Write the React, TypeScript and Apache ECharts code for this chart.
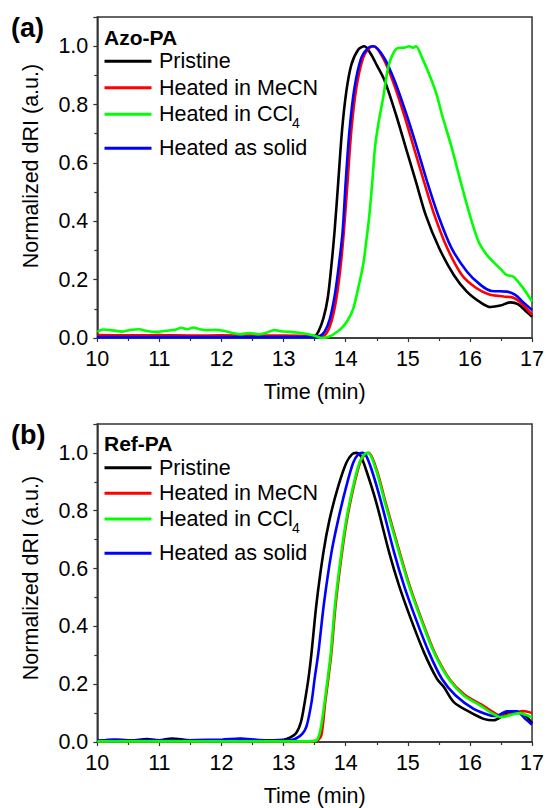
import React, { useEffect, useRef } from "react";
import * as echarts from "echarts";

// ---------- data ----------
const timeTicks = [10, 11, 12, 13, 14, 15, 16, 17];
const seriesNames = ["Pristine", "Heated in MeCN", "Heated in CCl4", "Heated as solid"];
const seriesColors = ["#000000", "#ff0000", "#00ff00", "#0000ff"];
const yAxisTitle = "Normalized dRI (a.u.)";
const xAxisTitle = "Time (min)";

// Panel (a) Azo-PA
const azoPristine: [number, number][] = [
  [10, 0.008], [10.5, 0.008], [11, 0.01], [11.5, 0.006], [12, 0.006], [12.5, 0.005], [13, 0.005],
  [13.45, 0.005], [13.5, 0.006], [13.56, 0.022], [13.64, 0.067], [13.71, 0.136], [13.77, 0.25],
  [13.82, 0.365], [13.88, 0.536], [13.94, 0.71], [14.01, 0.845], [14.09, 0.936], [14.2, 0.988],
  [14.3, 1.0], [14.4, 0.975], [14.5, 0.935], [14.63, 0.88], [14.81, 0.765], [14.97, 0.65],
  [15.13, 0.536], [15.29, 0.42], [15.5, 0.31], [15.74, 0.216], [15.95, 0.159], [16.17, 0.122],
  [16.33, 0.106], [16.49, 0.111], [16.65, 0.122], [16.78, 0.115], [16.91, 0.09], [17, 0.073],
];
const azoMeCN: [number, number][] = [
  [10, 0.01], [10.5, 0.009], [11, 0.009], [11.5, 0.008], [12, 0.009], [12.5, 0.008], [13, 0.008],
  [13.5, 0.007], [13.61, 0.006], [13.69, 0.016], [13.77, 0.056], [13.85, 0.136], [13.92, 0.25],
  [13.97, 0.365], [14.03, 0.536], [14.09, 0.71], [14.17, 0.856], [14.28, 0.96], [14.38, 0.994],
  [14.45, 1.0], [14.6, 0.96], [14.76, 0.88], [14.94, 0.765], [15.1, 0.65], [15.26, 0.536],
  [15.43, 0.42], [15.63, 0.31], [15.87, 0.216], [16.09, 0.173], [16.3, 0.15], [16.54, 0.142],
  [16.7, 0.138], [16.83, 0.119], [17, 0.079],
];
const azoCCl4: [number, number][] = [
  [10, 0.021], [10.1, 0.029], [10.25, 0.026], [10.4, 0.022], [10.55, 0.028], [10.67, 0.03],
  [10.8, 0.024], [10.95, 0.021], [11.1, 0.025], [11.25, 0.028], [11.35, 0.035], [11.45, 0.03],
  [11.55, 0.036], [11.65, 0.03], [11.78, 0.027], [11.9, 0.028], [12.05, 0.024], [12.2, 0.016],
  [12.3, 0.013], [12.45, 0.017], [12.6, 0.013], [12.72, 0.018], [12.85, 0.027], [13, 0.022],
  [13.1, 0.021], [13.25, 0.018], [13.4, 0.013], [13.52, 0.006], [13.62, 0.0], [13.72, 0.004],
  [13.8, 0.012], [13.93, 0.033], [14.03, 0.06], [14.12, 0.1], [14.2, 0.17], [14.28, 0.25],
  [14.33, 0.33], [14.38, 0.42], [14.43, 0.54], [14.47, 0.65], [14.53, 0.74], [14.6, 0.82],
  [14.7, 0.94], [14.84, 0.994], [14.95, 0.995], [15.02, 1.0], [15.08, 0.995], [15.13, 1.0],
  [15.23, 0.96], [15.37, 0.89], [15.47, 0.83], [15.55, 0.765], [15.71, 0.65], [15.85, 0.536],
  [16.0, 0.42], [16.14, 0.33], [16.27, 0.285], [16.38, 0.26], [16.5, 0.235], [16.59, 0.216],
  [16.7, 0.21], [16.86, 0.17], [17, 0.125],
];
const azoSolid: [number, number][] = [
  [10, 0.003], [11, 0.003], [12, 0.003], [13, 0.003], [13.5, 0.003], [13.58, 0.006],
  [13.66, 0.022], [13.74, 0.062], [13.82, 0.142], [13.89, 0.25], [13.95, 0.365], [14.0, 0.536],
  [14.06, 0.71], [14.14, 0.856], [14.25, 0.96], [14.36, 0.994], [14.45, 1.0], [14.62, 0.96],
  [14.79, 0.88], [14.98, 0.765], [15.15, 0.65], [15.31, 0.536], [15.49, 0.42], [15.7, 0.31],
  [15.95, 0.228], [16.17, 0.182], [16.35, 0.161], [16.59, 0.159], [16.73, 0.148], [16.86, 0.122],
  [17, 0.096],
];

// Panel (b) Ref-PA
const refPristine: [number, number][] = [
  [10, 0.004], [10.3, 0.008], [10.55, 0.005], [10.8, 0.01], [11.0, 0.006], [11.2, 0.012],
  [11.5, 0.006], [12, 0.006], [12.3, 0.01], [12.6, 0.006], [13.0, 0.008], [13.1, 0.015],
  [13.2, 0.03], [13.28, 0.07], [13.34, 0.138], [13.4, 0.22], [13.45, 0.31], [13.53, 0.48],
  [13.64, 0.655], [13.74, 0.77], [13.88, 0.885], [14.01, 0.966], [14.1, 0.995], [14.17, 1.0],
  [14.24, 0.99], [14.33, 0.94], [14.49, 0.83], [14.7, 0.655], [14.86, 0.54], [15.05, 0.425],
  [15.26, 0.31], [15.47, 0.218], [15.58, 0.19], [15.74, 0.138], [16.0, 0.103], [16.22, 0.08],
  [16.38, 0.075], [16.54, 0.092], [16.65, 0.105], [16.8, 0.103], [16.9, 0.09], [17, 0.065],
];
const refMeCN: [number, number][] = [
  [10, 0.002], [11, 0.002], [12, 0.002], [13, 0.002], [13.5, 0.003], [13.56, 0.008],
  [13.61, 0.025], [13.67, 0.138], [13.72, 0.22], [13.77, 0.31], [13.84, 0.48], [13.94, 0.655],
  [14.02, 0.77], [14.13, 0.885], [14.23, 0.966], [14.31, 0.995], [14.37, 1.0], [14.5, 0.94],
  [14.64, 0.83], [14.87, 0.655], [15.03, 0.54], [15.22, 0.425], [15.43, 0.31], [15.67, 0.218],
  [15.91, 0.164], [16.18, 0.13], [16.36, 0.105], [16.5, 0.09], [16.65, 0.097], [16.85, 0.107],
  [17, 0.1],
];
const refCCl4: [number, number][] = [
  [10, 0.002], [11, 0.002], [12, 0.002], [13, 0.002], [13.48, 0.003], [13.55, 0.012],
  [13.6, 0.05], [13.66, 0.138], [13.71, 0.22], [13.76, 0.31], [13.83, 0.48], [13.93, 0.655],
  [14.01, 0.77], [14.12, 0.885], [14.22, 0.966], [14.3, 0.995], [14.36, 1.0], [14.49, 0.94],
  [14.63, 0.83], [14.86, 0.655], [15.02, 0.54], [15.21, 0.425], [15.42, 0.31], [15.66, 0.218],
  [15.9, 0.161], [16.17, 0.126], [16.35, 0.1], [16.5, 0.086], [16.65, 0.093], [16.8, 0.1],
  [16.9, 0.094], [17, 0.085],
];
const refSolid: [number, number][] = [
  [10, 0.004], [10.25, 0.008], [10.5, 0.005], [10.9, 0.007], [11.3, 0.005], [11.6, 0.007],
  [12.0, 0.008], [12.3, 0.012], [12.6, 0.007], [13.0, 0.005], [13.1, 0.006], [13.2, 0.012],
  [13.3, 0.028], [13.37, 0.055], [13.45, 0.138], [13.5, 0.22], [13.56, 0.31], [13.65, 0.48],
  [13.77, 0.655], [13.88, 0.77], [14.01, 0.885], [14.12, 0.966], [14.2, 0.995], [14.27, 1.0],
  [14.33, 0.99], [14.42, 0.94], [14.57, 0.83], [14.78, 0.655], [14.94, 0.54], [15.13, 0.425],
  [15.34, 0.31], [15.55, 0.218], [15.77, 0.161], [16.06, 0.115], [16.33, 0.092], [16.43, 0.09],
  [16.59, 0.106], [16.75, 0.106], [16.89, 0.08], [17, 0.06],
];

const panelA = [azoPristine, azoMeCN, azoCCl4, azoSolid];
const panelB = [refPristine, refMeCN, refCCl4, refSolid];
const drawOrder = [0, 1, 3, 2];

const FONT = "'Liberation Sans', Arial, Helvetica, sans-serif";
const AXIS_COLOR = "#333";

export default function App() {
  const ref = useRef<HTMLDivElement>(null);
  useEffect(() => {
    if (!ref.current) return;
    const chart = echarts.init(ref.current, undefined, { renderer: "svg" });

    const grids = [
      { left: 97.3, top: 17, width: 438, height: 321 },
      { left: 97.3, top: 424, width: 438, height: 319.3 },
    ];

    const makeX = (gi: number) => ({
      type: "value",
      gridIndex: gi,
      min: timeTicks[0],
      max: timeTicks[timeTicks.length - 1],
      interval: 1,
      axisLine: { show: true, lineStyle: { color: AXIS_COLOR, width: 1.5 } },
      axisTick: { show: true, inside: false, length: 4, lineStyle: { color: AXIS_COLOR, width: 1.2 } },
      minorTick: { show: true, splitNumber: 2, length: 3, lineStyle: { color: AXIS_COLOR, width: 1.2 } },
      splitLine: { show: false },
      axisLabel: { fontSize: 21.5, color: "#000", fontFamily: FONT, margin: 10 },
      name: xAxisTitle,
      nameLocation: "middle",
      nameGap: 43,
      nameTextStyle: { fontSize: 21.5, color: "#000", fontFamily: FONT },
    });
    const makeY = (gi: number) => ({
      type: "value",
      gridIndex: gi,
      min: 0,
      max: 1.1,
      interval: 0.2,
      axisLine: { show: true, lineStyle: { color: AXIS_COLOR, width: 1.5 } },
      axisTick: { show: true, inside: false, length: 4, lineStyle: { color: AXIS_COLOR, width: 1.2 } },
      minorTick: { show: true, splitNumber: 2, length: 3, lineStyle: { color: AXIS_COLOR, width: 1.2 } },
      splitLine: { show: false },
      axisLabel: {
        fontSize: 21.5,
        color: "#000",
        fontFamily: FONT,
        margin: 9,
        showMaxLabel: false,
        formatter: (v: number) => (v > 1.05 ? "" : v.toFixed(1)),
      },
    });

    const series: any[] = [];
    [panelA, panelB].forEach((panel, gi) => {
      drawOrder.forEach((si, k) => {
        series.push({
          type: "line",
          name: seriesNames[si],
          xAxisIndex: gi,
          yAxisIndex: gi,
          data: panel[si],
          symbol: "none",
          showSymbol: false,
          smooth: 0.3,
          lineStyle: { color: seriesColors[si], width: 2.6 },
          itemStyle: { color: seriesColors[si] },
          z: 2 + k,
          silent: true,
        });
      });
    });

    const legendBlock = (
      title: string,
      titleY: number,
      rowYs: number[],
      panelLabel: string,
      labelY: number,
      yTitleCenter: number
    ) => {
      const els: any[] = [
        {
          type: "text",
          x: 11,
          y: labelY,
          style: { text: panelLabel, fontSize: 27, fontWeight: "bold", fontFamily: FONT, fill: "#000", verticalAlign: "middle" },
        },
        {
          type: "text",
          x: 31,
          y: yTitleCenter,
          rotation: Math.PI / 2,
          style: { text: yAxisTitle, fontSize: 21.5, fontFamily: FONT, fill: "#000", align: "center", verticalAlign: "middle" },
        },
        {
          type: "text",
          x: 104,
          y: titleY,
          style: { text: title, fontSize: 21, fontWeight: "bold", fontFamily: FONT, fill: "#000", verticalAlign: "middle" },
        },
      ];
      rowYs.forEach((yy, i) => {
        els.push({
          type: "line",
          shape: { x1: 104.5, y1: yy, x2: 151.5, y2: yy },
          style: { stroke: seriesColors[i], lineWidth: 3 },
        });
        const label = i === 2 ? "Heated in CCl" : seriesNames[i];
        els.push({
          type: "text",
          x: 159,
          y: yy,
          style: { text: label, fontSize: 21.5, fontFamily: FONT, fill: "#000", verticalAlign: "middle" },
        });
        if (i === 2) {
          els.push({
            type: "text",
            x: 292,
            y: yy + 9,
            style: { text: "4", fontSize: 14, fontFamily: FONT, fill: "#000", verticalAlign: "middle" },
          });
        }
      });
      return els;
    };

    chart.setOption({
      animation: false,
      backgroundColor: "#fff",
      grid: grids.map((g) => ({ ...g, show: true, borderColor: AXIS_COLOR, borderWidth: 1.5, backgroundColor: "transparent" })),
      xAxis: [makeX(0), makeX(1)],
      yAxis: [makeY(0), makeY(1)],
      series,
      graphic: [
        ...legendBlock("Azo-PA", 37, [61.3, 87.7, 114.3, 148.3], "(a)", 28, 166),
        ...legendBlock("Ref-PA", 443.3, [467.7, 493.3, 519, 553.3], "(b)", 435, 578),
      ],
    });
    return () => chart.dispose();
  }, []);
  return (
    <div
      ref={ref}
      style={{ position: "absolute", left: 0, top: 0, width: 547, height: 808, background: "#fff" }}
    />
  );
}
